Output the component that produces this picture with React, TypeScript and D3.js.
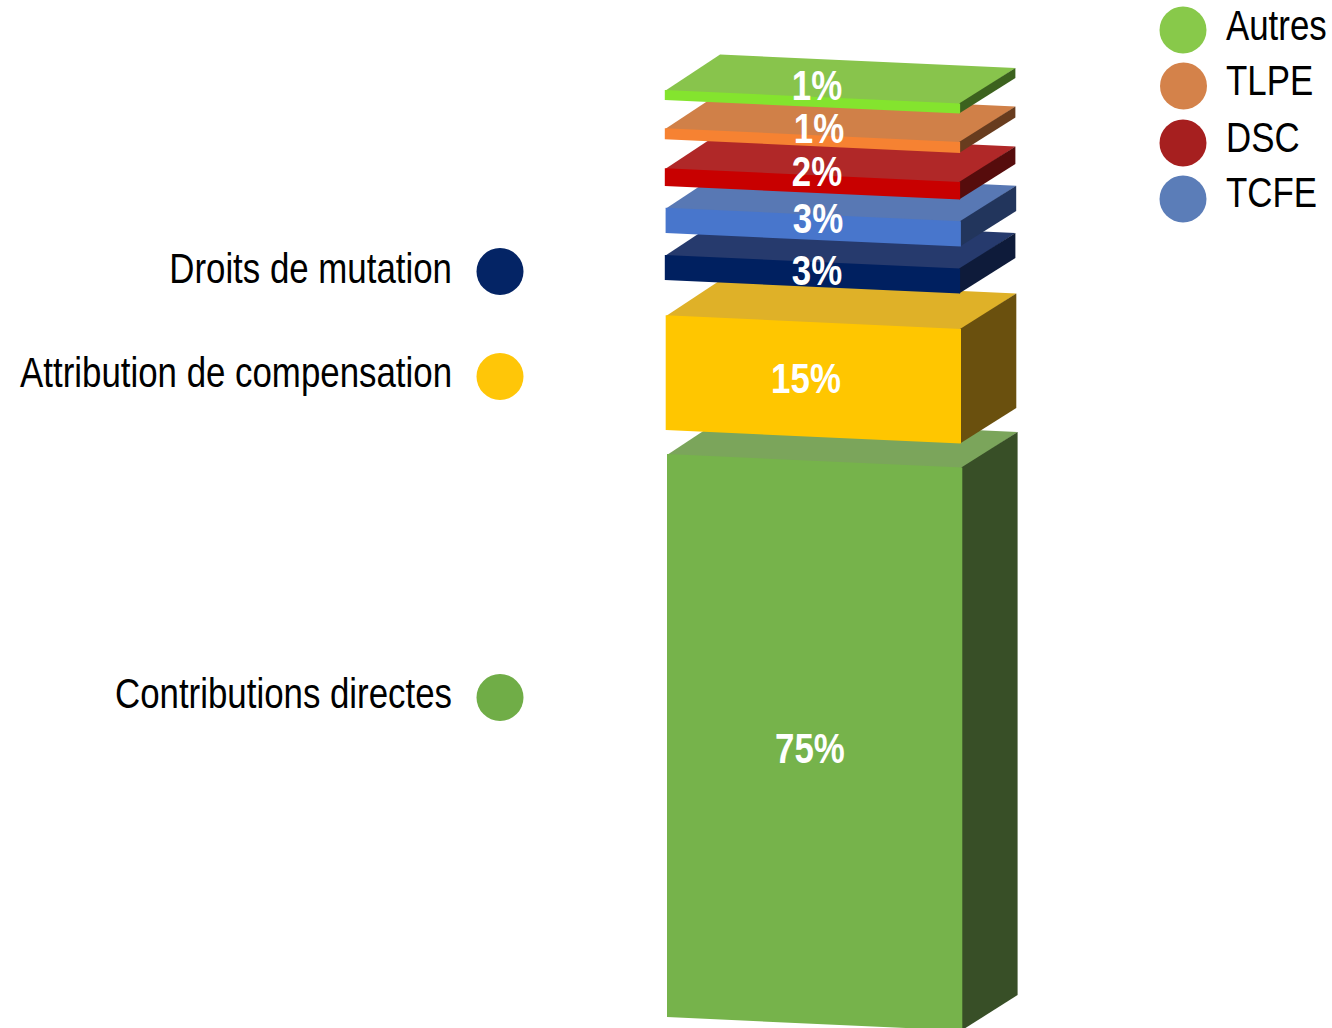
import React from "react";
import * as d3 from "d3";

const segments = ["Contributions directes", "Attribution de compensation", "Droits de mutation", "TCFE", "DSC", "TLPE", "Autres"];
const labels = ["75%", "15%", "3%", "3%", "2%", "1%", "1%"];
const frontLefts = [667, 665.7, 664.8, 665.6, 664.8, 664.8, 664.8];
const frontTops = [454, 315.3, 255, 207.7, 168.3, 128.3, 90];
const frontBottoms = [1017, 430, 280, 233, 186, 139.3, 100];
const frontColors = ["#76b34b", "#ffc600", "#002060", "#4876cc", "#c80000", "#f68232", "#84e42e"];
const topColors = ["#7ba55b", "#dfb128", "#263a6d", "#5878b4", "#b02828", "#d08048", "#88c44c"];
const sideColors = ["#384f27", "#6a500e", "#0e1b3a", "#22355c", "#560c0c", "#683c1e", "#3c621e"];
const labelColors = ["#70ad47", "#ffc608", "#042465", "#5b7db8", "#a61f1f", "#d4824a", "#88c94a"];
const labelX = [810, 806, 817, 818, 817, 819, 817];
const labelY = [752, 382, 274, 222, 175, 132, 89];
const leftLegend = [
  { name: "Droits de mutation", i: 2, y: 271, dy: 1 },
  { name: "Attribution de compensation", i: 1, y: 376, dy: 0 },
  { name: "Contributions directes", i: 0, y: 697, dy: 0 },
];
const rightLegend = [
  { name: "Autres", i: 6, y: 30, cx: 1183, dy: -1 },
  { name: "TLPE", i: 5, y: 86, cx: 1183.5, dy: -2 },
  { name: "DSC", i: 4, y: 143, cx: 1183, dy: -2 },
  { name: "TCFE", i: 3, y: 199, cx: 1183, dy: -3 },
];

const WIDTH_FULL = 295.3;
const SLOPE = 13.6;
const DX = 55.3;
const DY = -35.5;
const line = d3.line();
const poly = (p: [number, number][]) => line(p) + "Z";
const FONT = "'Liberation Sans', Arial, sans-serif";
const condensed = (cx: number) => `translate(${cx} 0) scale(0.83 1) translate(${-cx} 0)`;

export default function App() {
  return (
    <svg width={1332} height={1028} style={{ position: "absolute", left: 0, top: 0 }}>
      <rect width={1332} height={1028} fill="#fff" />
      {segments.map((_, i) => {
        const x0 = frontLefts[i];
        const x1 = x0 + WIDTH_FULL;
        const t = frontTops[i];
        const b = frontBottoms[i];
        return (
          <g key={i}>
            <path d={poly([[x0, t + 1], [x1, t + SLOPE + 1], [x1 + DX, t + SLOPE + DY], [x0 + DX, t + DY]])} fill={topColors[i]} />
            <path d={poly([[x1 - 1, t + SLOPE], [x1 + DX, t + SLOPE + DY], [x1 + DX, b + SLOPE + DY], [x1 - 1, b + SLOPE]])} fill={sideColors[i]} />
            <path d={poly([[x0, t], [x1, t + SLOPE], [x1, b + SLOPE], [x0, b]])} fill={frontColors[i]} />
          </g>
        );
      })}
      {labels.map((l, i) => (
        <text key={i} x={labelX[i]} y={labelY[i]} transform={condensed(labelX[i])} textAnchor="middle" dominantBaseline="middle" fontFamily={FONT} fontSize={42} fontWeight="bold" fill="#fff">{l}</text>
      ))}
      {leftLegend.map((d) => (
        <g key={d.name}>
          <circle cx={500} cy={d.y + 0.5} r={23.5} fill={labelColors[d.i]} />
          <text x={452} y={d.y + d.dy} transform={condensed(452)} textAnchor="end" dominantBaseline="middle" fontFamily={FONT} fontSize={42} fill="#000">{d.name}</text>
        </g>
      ))}
      {rightLegend.map((d) => (
        <g key={d.name}>
          <circle cx={d.cx} cy={d.y} r={23.5} fill={labelColors[d.i]} />
          <text x={1226} y={d.y + d.dy} transform={condensed(1226)} dominantBaseline="middle" fontFamily={FONT} fontSize={42} fill="#000">{d.name}</text>
        </g>
      ))}
    </svg>
  );
}
